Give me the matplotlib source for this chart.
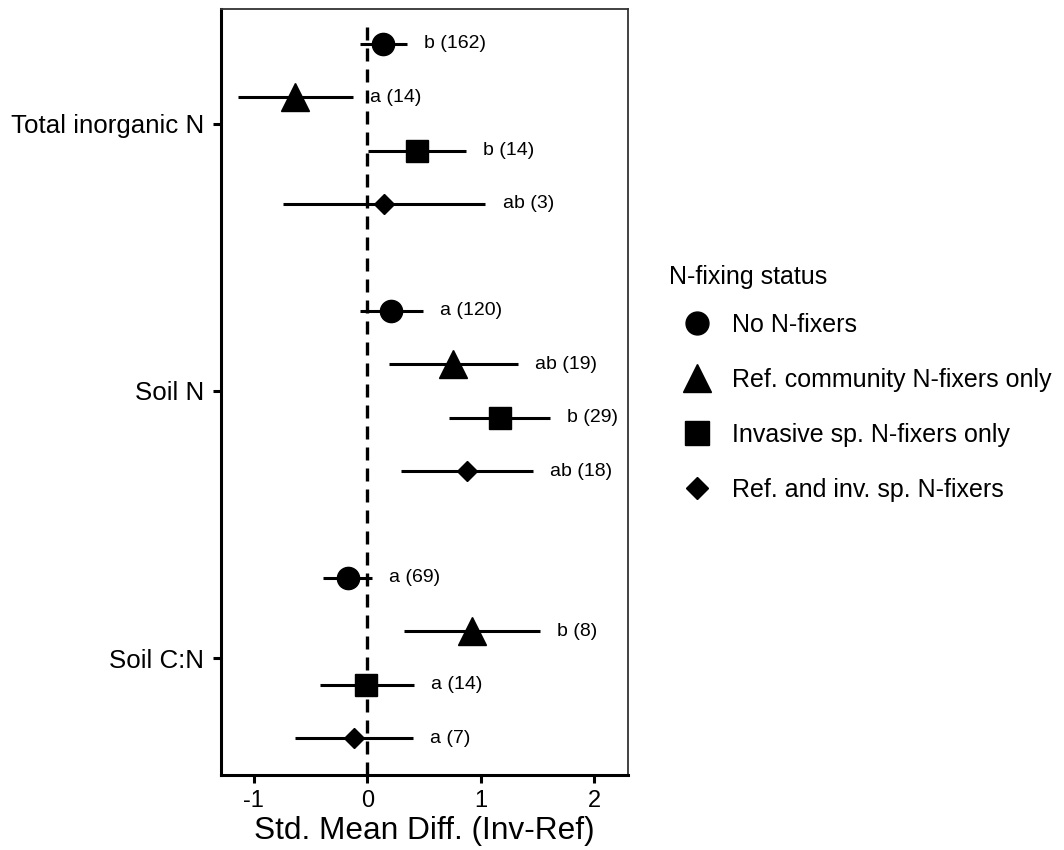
import matplotlib
matplotlib.use("Agg")
import matplotlib.pyplot as plt
from matplotlib.lines import Line2D
import numpy as np

plt.rcParams['font.family'] = ['Liberation Sans', 'DejaVu Sans']

variables = ['Total inorganic N', 'Soil N', 'Soil C:N']
statuses = ['No N-fixers', 'Ref. community N-fixers only',
            'Invasive sp. N-fixers only', 'Ref. and inv. sp. N-fixers']
markers = ['o', '^', 's', 'D']
marker_sizes = [16, 19.5, 16.5, 10.5]

# mean, lower, upper per status, one entry per variable (Total inorganic N, Soil N, Soil C:N)
means = {
    'No N-fixers':                  [0.14, 0.21, -0.17],
    'Ref. community N-fixers only': [-0.64, 0.76, 0.92],
    'Invasive sp. N-fixers only':   [0.44, 1.17, -0.01],
    'Ref. and inv. sp. N-fixers':   [0.15, 0.88, -0.12],
}
lowers = {
    'No N-fixers':                  [-0.06, -0.06, -0.39],
    'Ref. community N-fixers only': [-1.14, 0.19, 0.32],
    'Invasive sp. N-fixers only':   [0.01, 0.72, -0.42],
    'Ref. and inv. sp. N-fixers':   [-0.74, 0.30, -0.64],
}
uppers = {
    'No N-fixers':                  [0.35, 0.49, 0.04],
    'Ref. community N-fixers only': [-0.13, 1.33, 1.52],
    'Invasive sp. N-fixers only':   [0.87, 1.61, 0.41],
    'Ref. and inv. sp. N-fixers':   [1.04, 1.46, 0.40],
}
labels = {
    'No N-fixers':                  ['b (162)', 'a (120)', 'a (69)'],
    'Ref. community N-fixers only': ['a (14)', 'ab (19)', 'b (8)'],
    'Invasive sp. N-fixers only':   ['b (14)', 'b (29)', 'a (14)'],
    'Ref. and inv. sp. N-fixers':   ['ab (3)', 'ab (18)', 'a (7)'],
}
legend_title = 'N-fixing status'

W, H = 1064, 850
fig = plt.figure(figsize=(W / 100, H / 100), dpi=100)
ax = fig.add_axes([220.7 / W, 1 - 775 / H, (627.5 - 220.7) / W, (775 - 9.3) / H])

group_pos = np.array([3, 2, 1])
dodge = [0.3, 0.1, -0.1, -0.3]

ax.axvline(0, ymax=0.982, color='black', lw=2.4, dashes=(3.9, 2.4), zorder=1)

for st, mk, ms, dy in zip(statuses, markers, marker_sizes, dodge):
    m = np.array(means[st])
    lo = np.array(lowers[st])
    hi = np.array(uppers[st])
    y = group_pos + dy
    ax.errorbar(m, y, xerr=[m - lo, hi - m], fmt=mk, color='black',
                markersize=ms, elinewidth=2.2, capsize=0, zorder=3)
    for xi, yi, lab in zip(hi, y, labels[st]):
        ax.annotate(lab, (xi, yi), xytext=(12.5, 0), textcoords='offset points',
                    ha='left', va='center', fontsize=14, color='black')

ax.set_xlim(-1.293, 2.295)
ax.set_ylim(0.5625, 3.4286)
ax.set_xticks([-1, 0, 1, 2])
ax.set_xticklabels(['-1', '0', '1', '2'], fontsize=17)
ax.set_yticks(group_pos)
ax.set_yticklabels(variables, fontsize=18.6)
ax.set_xlabel('Std. Mean Diff. (Inv-Ref)', fontsize=22.8, labelpad=3)

for s in ['left', 'bottom']:
    ax.spines[s].set_linewidth(2.2)
    ax.spines[s].set_color('black')
for s in ['top', 'right']:
    ax.spines[s].set_linewidth(1.3)
    ax.spines[s].set_color('#333333')
ax.tick_params(axis='both', length=5.5, width=2.2, color='black', labelcolor='black')
ax.tick_params(axis='x', pad=5)
ax.tick_params(axis='y', pad=6.5)

handles = [Line2D([], [], marker=mk, linestyle='none', color='black', markersize=ms * 1.03)
           for mk, ms in zip(markers, marker_sizes)]
leg = fig.legend(handles, statuses, loc='center left',
                 bbox_to_anchor=(659 / W, 1 - 407.5 / H), frameon=False,
                 fontsize=18, labelspacing=1.24,
                 handlelength=2.24, handletextpad=0.27, borderaxespad=0)
fig.text(669 / W, 1 - 284 / H, legend_title, fontsize=18, ha='left', va='baseline')

fig.savefig('out.png', dpi=100)
